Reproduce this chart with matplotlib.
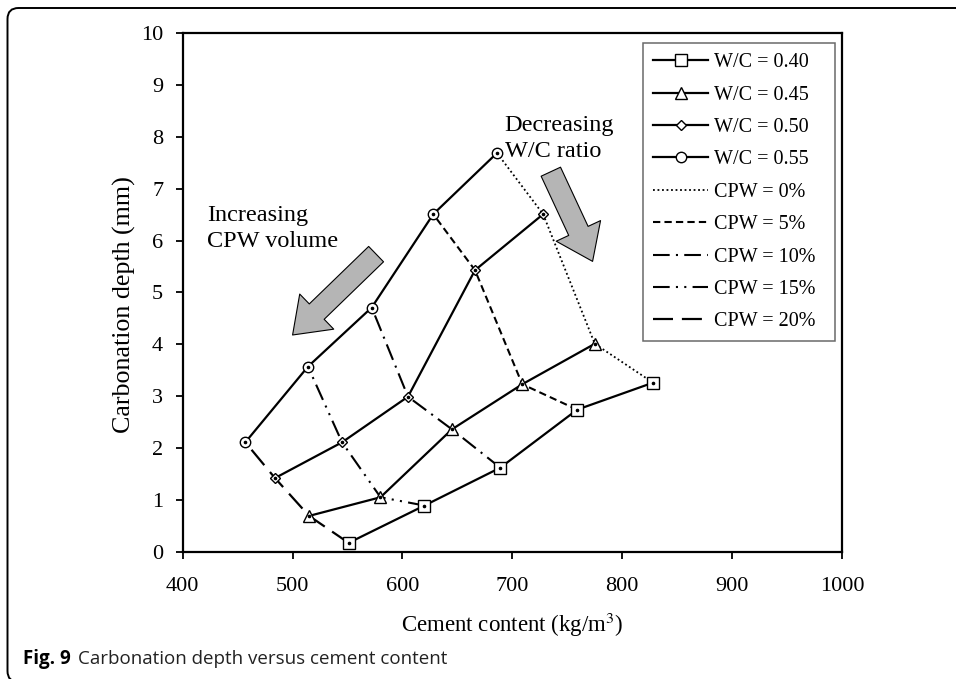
import matplotlib
matplotlib.use("Agg")
import matplotlib.pyplot as plt
from matplotlib.patches import FancyBboxPatch

plt.rcParams['font.family'] = ['Liberation Serif', 'DejaVu Serif']
plt.rcParams['mathtext.fontset'] = 'stix'

# CPW levels (%), order along each W/C curve from high to low cement content
cpw_levels = [0, 5, 10, 15, 20]
wc_labels = ["W/C = 0.40", "W/C = 0.45", "W/C = 0.50", "W/C = 0.55"]
wc_markers = ["s", "^", "D", "o"]
wc_msizes = [8, 8, 5, 7.5]

# cement content (kg/m3) for each W/C, CPW = 0,5,10,15,20 %
cement_040 = [828, 759, 689, 620, 551]
cement_045 = [775, 709, 645, 580, 515]
cement_050 = [728, 666, 605, 545, 484]
cement_055 = [686, 628, 572, 514, 457]
# carbonation depth (mm)
depth_040 = [3.26, 2.74, 1.62, 0.89, 0.17]
depth_045 = [4.01, 3.23, 2.36, 1.05, 0.69]
depth_050 = [6.51, 5.43, 2.99, 2.11, 1.42]
depth_055 = [7.69, 6.51, 4.71, 3.57, 2.11]

cement = [cement_040, cement_045, cement_050, cement_055]
depth = [depth_040, depth_045, depth_050, depth_055]

cpw_labels = ["CPW = 0%", "CPW = 5%", "CPW = 10%", "CPW = 15%", "CPW = 20%"]
cpw_styles = [(0, (1, 1.5)), (0, (3.5, 2)), (0, (8, 3, 1, 3)),
              (0, (8, 3, 1, 3, 1, 3)), (0, (9, 4))]
cpw_widths = [1.3, 1.5, 1.5, 1.5, 1.6]

fig = plt.figure(figsize=(9.56, 6.79), dpi=100)
ax = fig.add_axes([0.1911, 0.1875, 0.6897, 0.7635])

# CPW lines (connect same CPW across W/C)
cpw_handles = []
for j, lab in enumerate(cpw_labels):
    xs = [cement[i][j] for i in range(4)]
    ys = [depth[i][j] for i in range(4)]
    h, = ax.plot(xs, ys, color='black', lw=cpw_widths[j], ls=cpw_styles[j],
                 zorder=2, label=lab)
    cpw_handles.append(h)

# W/C lines
wc_handles = []
for i, lab in enumerate(wc_labels):
    h, = ax.plot(cement[i], depth[i], color='black', lw=1.6, marker=wc_markers[i],
                 ms=wc_msizes[i], mfc='white', mec='black', mew=1.0, zorder=3,
                 label=lab)
    wc_handles.append(h)
    ax.plot(cement[i], depth[i], ls='none', marker='o', ms=1.6, color='black',
            zorder=4)

ax.set_xlim(400, 1000)
ax.set_ylim(0, 10)
ax.set_xticks([400, 500, 600, 700, 800, 900, 1000])
ax.set_yticks(range(0, 11))
ax.tick_params(direction='out', length=5, width=1.3, labelsize=16,
               colors='black')
ax.tick_params(axis='x', pad=13)
ax.tick_params(axis='y', pad=9)
for s in ax.spines.values():
    s.set_linewidth(1.6)

ax.set_xlabel("Cement content (kg/m$^{3}$)", fontsize=16.5, labelpad=11)
ax.set_ylabel("Carbonation depth (mm)", fontsize=18.7)
ax.yaxis.set_label_coords(-0.071, 0.476)

leg = ax.legend(handles=wc_handles + cpw_handles, loc='upper left',
                bbox_to_anchor=(0.698, 0.0, 0.291, 0.981), mode='expand',
                fontsize=14.5, frameon=True,
                fancybox=False, edgecolor='#444444', handlelength=2.75,
                handletextpad=0.28, labelspacing=0.66, borderpad=0.5,
                borderaxespad=0)
leg.get_frame().set_linewidth(1.1)

# annotations
ax.text(422, 6.68, "Increasing\nCPW volume", fontsize=17.5, va='top',
        ha='left', linespacing=1.3)
ax.text(693, 8.42, "Decreasing\nW/C ratio", fontsize=17.5, va='top', ha='left',
        linespacing=1.3)

arrow_style = "simple,head_length=1.1,head_width=1.6,tail_width=0.7"
ax.annotate("", xy=(500, 4.18), xytext=(576, 5.74),
            arrowprops=dict(arrowstyle=arrow_style, fc='#b5b5b5', ec='black',
                            lw=0.8, mutation_scale=22, shrinkA=0, shrinkB=0))
ax.annotate("", xy=(773, 5.60), xytext=(735, 7.33),
            arrowprops=dict(arrowstyle=arrow_style, fc='#b5b5b5', ec='black',
                            lw=0.8, mutation_scale=22, shrinkA=0, shrinkB=0))

# outer rounded frame (display pixel coordinates)
frame = FancyBboxPatch((7.5, -3), 1000, 679 - 8 + 3,
                       boxstyle="round,pad=0,rounding_size=11",
                       transform=None, fill=False, ec='black',
                       lw=1.4, clip_on=False)
fig.patches.append(frame)

cap_y = 1 - 664 / 679
t1 = fig.text(23 / 956, cap_y, "Fig. 9", fontsize=13.5, fontweight='bold',
              family=['Open Sans', 'DejaVu Sans'], va='baseline', ha='left')
fig.canvas.draw()
bb = t1.get_window_extent()
fig.text((bb.x1 + 7) / 956, cap_y, "Carbonation depth versus cement content",
         fontsize=13.5, family=['Open Sans', 'DejaVu Sans'], color='#222222',
         va='baseline', ha='left')

fig.savefig("out.png", dpi=100)
